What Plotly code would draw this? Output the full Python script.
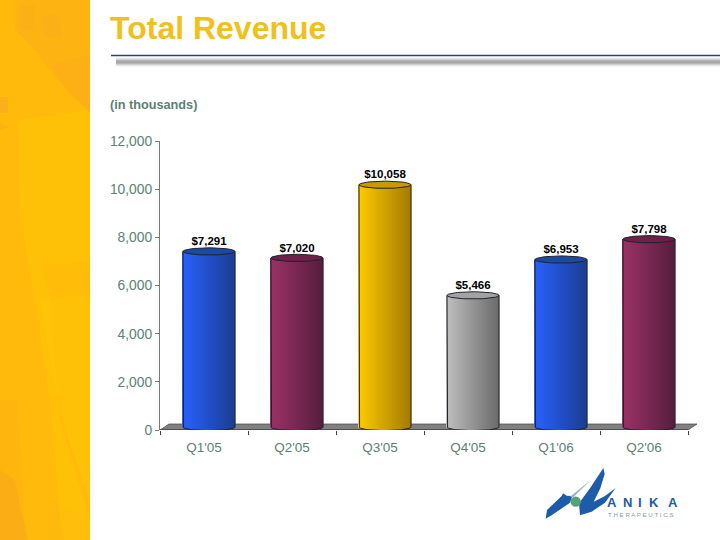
import numpy as np
import plotly.graph_objects as go

categories = ["Q1'05", "Q2'05", "Q3'05", "Q4'05", "Q1'06", "Q2'06"]
revenue = [7291, 7020, 10058, 5466, 6953, 7798]
labels = ["$7,291", "$7,020", "$10,058", "$5,466", "$6,953", "$7,798"]
light = [(42, 98, 255), (156, 50, 104), (255, 204, 0), (192, 192, 192), (42, 98, 255), (156, 50, 104)]
dark = [(28, 62, 146), (88, 30, 62), (166, 124, 0), (108, 108, 108), (28, 62, 146), (88, 30, 62)]
caps = ["#1d48a8", "#6d2048", "#c99a00", "#a2a2a2", "#1d48a8", "#6d2048"]

W, H = 720, 540
L, R, T, B = 160, 700, 141, 430
CAT_PX = 88.0
X_MAX = (R - L) / CAT_PX
UNIT = 12000 / (B - T)          # data units per pixel
LIFT = 3 * UNIT                 # 3-D lift of the bar tops
BASE = 3 * UNIT
EY = 3.6 * UNIT                 # ellipse half-height
SHIFT = 5 / CAT_PX              # 3-D shift of the bars
HALF = 26 / CAT_PX              # bar half-width
N = 52
TEXT = "#5d7f74"
AXIS = "#7a7a7a"


def px(x, y):
    return (x - L) / (R - L), (B - y) / (B - T)


def path(points):
    parts = []
    for i, (x, y) in enumerate(points):
        a, b = px(x, y)
        parts.append(f"{'M' if i == 0 else 'L'}{a:.5f},{b:.5f}")
    return " ".join(parts) + " Z"


def poly(points, color, opacity=1.0):
    return dict(type="path", xref="paper", yref="paper", path=path(points), fillcolor=color,
                opacity=opacity, line_width=0, layer="below")


def hline(x0, x1, y, color, width, opacity=1.0):
    a0, b0 = px(x0, y)
    a1, _ = px(x1, y)
    return dict(type="line", xref="paper", yref="paper", x0=a0, x1=a1, y0=b0, y1=b0,
                line=dict(color=color, width=width), opacity=opacity, layer="below")


shapes = [
    poly([(0, 0), (90, 0), (90, 540), (0, 540)], "#ffba0b"),
    poly([(18, 120), (90, 110), (90, 300), (50, 300), (60, 420), (90, 520), (90, 540), (62, 540), (50, 400), (20, 210)], "#ffc407", 0.6),
    poly([(40, 300), (90, 300), (90, 500), (65, 430), (50, 360)], "#ffc506", 0.6),
    poly([(15, 0), (90, 0), (90, 112), (58, 80), (30, 45), (15, 30)], "#fbae1a", 0.55),
    poly([(20, 5), (35, 5), (35, 30), (20, 30)], "#f9a822", 0.3),
    poly([(42, 15), (60, 15), (62, 38), (44, 36)], "#f9a822", 0.35),
    poly([(50, 65), (90, 55), (90, 112), (70, 95)], "#fba91e", 0.3),
    poly([(0, 97), (8, 97), (8, 113), (0, 113)], "#f8a326", 0.5),
    poly([(0, 123), (10, 127), (0, 130)], "#f8a326", 0.35),
    poly([(40, 265), (90, 262), (90, 295), (52, 298)], "#ffb712", 0.3),
    poly([(0, 400), (18, 400), (25, 540), (0, 540)], "#f9a922", 0.2),
    poly([(0, 470), (15, 480), (28, 540), (0, 540)], "#f79f22", 0.35),
    poly([(50, 500), (80, 515), (88, 540), (48, 540)], "#fdb614", 0.25),
]

# title rule and its blurred shadow
shapes.append(hline(111, 720, 55.5, "#2f3c93", 1.6))
for w, o in [(9, 0.12), (7, 0.18), (5, 0.3), (3, 0.45)]:
    shapes.append(hline(116, 720, 62, "#8a8a8a", w, o))

# floor of the chart, in data coordinates
n_cat = len(categories)
fx, fy = 9 / CAT_PX, 6 * UNIT
shapes.append(dict(
    type="path", xref="x", yref="y", layer="below",
    path=f"M0,0 L{fx},{fy} L{n_cat + fx},{fy} L{n_cat},0 Z",
    fillcolor="#808080", line=dict(color="#444444", width=0.7)))
shapes.append(dict(type="line", xref="x", yref="y", x0=0, x1=n_cat, y0=0, y1=0,
                   line=dict(color="#333333", width=1.2), layer="below"))


# logo pieces, drawn from a 3x crop's coordinates
def logo(points):
    return [(535 + x / 3, 460 + y / 3) for x, y in points]


shapes += [
    poly(logo([(32, 176), (36, 150), (62, 125), (80, 108), (84, 100), (95, 107), (112, 108), (105, 128), (50, 166)]), "#1c5ca8"),
    poly(logo([(105, 110), (170, 58), (115, 112)]), "#9fb3c8"),
    poly(logo([(135, 166), (132, 130), (165, 85), (205, 24), (209, 42), (196, 85), (176, 125), (210, 108), (242, 84), (210, 128), (170, 155)]), "#1c5ca8"),
]
cx, cy = 535 + 122 / 3, 460 + 125 / 3
c0 = px(cx - 5.2, cy + 5.2)
c1 = px(cx + 5.2, cy - 5.2)
shapes.append(dict(type="circle", xref="paper", yref="paper", x0=c0[0], x1=c1[0], y0=c0[1], y1=c1[1],
                   fillcolor="#55a277", line_width=0, layer="above"))

# gradient cylinders: narrow bars whose feet follow the bottom ellipse
sx, sb, sh, sc = [], [], [], []
u = (np.arange(N) + 0.5) / N
for i, v in enumerate(revenue):
    for t in u:
        pos = 2 * t - 1
        foot = BASE - EY * np.sqrt(1 - pos ** 2)
        sx.append(i + 0.5 + SHIFT + pos * HALF)
        sb.append(foot)
        sh.append(v + LIFT - foot)
        mix = [int(a + (b - a) * t) for a, b in zip(light[i], dark[i])]
        sc.append(f"rgb({mix[0]},{mix[1]},{mix[2]})")

fig = go.Figure()
fig.add_bar(x=sx, y=sh, base=sb, width=2 * HALF / N * 1.6, marker=dict(color=sc, line_width=0),
            cliponaxis=False, hoverinfo="skip")

theta = np.linspace(0, 2 * np.pi, 61)
half = np.linspace(np.pi, 2 * np.pi, 31)
for i, v in enumerate(revenue):
    c = i + 0.5 + SHIFT
    top = v + LIFT
    # side edges and lower rim
    xs = [c - HALF, c - HALF] + list(c + HALF * np.cos(half)) + [c + HALF, c + HALF]
    ys = [top, BASE] + list(BASE + EY * np.sin(half)) + [BASE, top]
    fig.add_scatter(x=xs, y=ys, mode="lines", line=dict(color="#22222c", width=1),
                    cliponaxis=False, hoverinfo="skip", showlegend=False)
    # top cap
    fig.add_scatter(x=c + HALF * np.cos(theta), y=top + EY * np.sin(theta), mode="lines",
                    fill="toself", fillcolor=caps[i], line=dict(color="#22222c", width=1),
                    cliponaxis=False, hoverinfo="skip", showlegend=False)

# value labels
fig.add_scatter(x=[i + 0.5 + SHIFT for i in range(n_cat)], y=[v + LIFT + 3.5 * UNIT for v in revenue],
                mode="text", text=labels, textposition="top center",
                textfont=dict(family="Liberation Sans", size=11.5, color="#000000", weight="bold"),
                cliponaxis=False, hoverinfo="skip", showlegend=False)

annotations = [
    dict(text="<b>Total Revenue</b>", x=px(108, 0)[0], y=px(0, 28)[1], font=dict(size=32, color="#f0c01c")),
    dict(text="<b>(in thousands)</b>", x=px(108, 0)[0], y=px(0, 105)[1], font=dict(size=12.7, color=TEXT)),
    dict(text="T H E R A P E U T I C S", x=px(606, 0)[0], y=px(0, 514)[1], font=dict(size=6.2, color="#8a9ba8")),
]
for letter, lx in zip("ANIKA", [605, 621, 636, 647, 666]):
    annotations.append(dict(text=f"<b>{letter}</b>", x=px(lx, 0)[0], y=px(0, 502.5)[1],
                            font=dict(size=13, color="#1c5ca8")))
for a in annotations:
    a.update(xref="paper", yref="paper", xanchor="left", yanchor="middle", showarrow=False, align="left")

fig.update_layout(
    width=W, height=H, autosize=False, showlegend=False, barmode="overlay",
    margin=dict(l=L, r=W - R, t=T, b=H - B, pad=0),
    paper_bgcolor="#ffffff", plot_bgcolor="rgba(0,0,0,0)",
    font=dict(family="Liberation Sans", color=TEXT),
    shapes=shapes, annotations=annotations,
    xaxis=dict(range=[0, X_MAX], tickmode="array", tickvals=[i + 0.5 for i in range(n_cat)],
               ticktext=categories, ticks="", showgrid=False, zeroline=False, showline=False,
               tickfont=dict(size=13.5, color=TEXT), ticklabelstandoff=7,
               minor=dict(ticks="outside", tickmode="array", tickvals=list(range(n_cat + 1)),
                          ticklen=4, tickcolor="#444444", tickwidth=1, showgrid=False)),
    yaxis=dict(range=[0, 12000], tickmode="array", tickvals=list(range(0, 12001, 2000)),
               ticktext=[f"{t:,}" for t in range(0, 12001, 2000)], ticks="outside", ticklen=4,
               tickcolor=AXIS, tickwidth=1, showline=True, linecolor=AXIS, linewidth=1.2,
               showgrid=False, zeroline=False, tickfont=dict(size=13.8, color=TEXT)),
)

fig.write_html("out.html", config=dict(displayModeBar=False),
               post_script="document.body.style.margin='0';document.documentElement.style.overflow='hidden';")
